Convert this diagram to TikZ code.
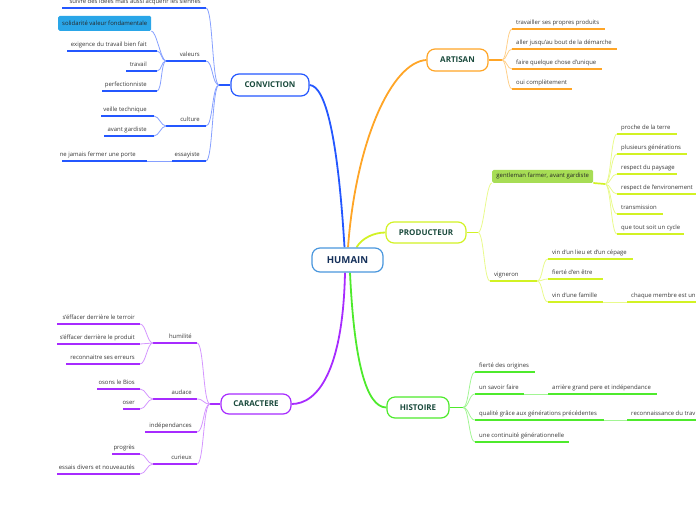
\documentclass[tikz,border=0pt]{standalone}
\usepackage{fontspec}
\setmainfont{Open Sans}
\usetikzlibrary{backgrounds}
\definecolor{cB}{HTML}{2457FF}
\definecolor{cBl}{HTML}{86A0FF}
\definecolor{cO}{HTML}{FFA526}
\definecolor{cOl}{HTML}{FFD08A}
\definecolor{cY}{HTML}{D2F224}
\definecolor{cYl}{HTML}{E9FA8C}
\definecolor{cG}{HTML}{4EEA2C}
\definecolor{cGl}{HTML}{A2F594}
\definecolor{cP}{HTML}{A72BFF}
\definecolor{cPl}{HTML}{D496FF}
\definecolor{hubc}{HTML}{4A97DD}
\definecolor{tt}{HTML}{1A4A3C}
\definecolor{navy}{HTML}{15305A}
\definecolor{lt}{HTML}{363636}
\definecolor{solidc}{HTML}{2AA6E8}
\definecolor{gentc}{HTML}{A7DD55}
\tikzset{
  topic/.style={draw, line width=1.2pt, fill=white, rounded corners=8pt,
    font=\fontsize{8}{9}\selectfont\bfseries, text=tt, inner sep=0pt},
  leaf/.style={font=\fontsize{5.95}{7}\selectfont, text=lt, inner xsep=1pt,
    inner ysep=2.6pt, text height=4.5pt, text depth=1.3pt},
  filledbox/.style={rounded corners=1.5pt, font=\fontsize{5.95}{7}\selectfont,
    text=black!85, inner sep=0pt, anchor=south west},
  ul/.style={line width=1.7pt},
  br/.style={line width=0.8pt},
  mainline/.style={line width=1.8pt}
}
% right-side leaf: name, x1, x2, y, text, colour
\newcommand\mmleafR[6]{%
  \coordinate (#1-w) at (#2,#4); \coordinate (#1-e) at (#3,#4);
  \node[leaf, anchor=south west] (#1) at ([xshift=3pt]#1-w) {#5};
  \draw[ul, #6] (#1-w) -- (#1-e);}
% left-side leaf: [right pad], name, x1, x2, y, text, colour
\newcommand\mmleafL[7][4]{%
  \coordinate (#2-w) at (#3,#5); \coordinate (#2-e) at (#4,#5);
  \node[leaf, anchor=south east] (#2) at ([xshift=-#1pt]#2-e) {#6};
  \draw[ul, #7] (#2-w) -- (#2-e);}
\begin{document}
\begin{tikzpicture}[x=1pt,y=-1pt]
\useasboundingbox (0,0) rectangle (696,520);

% central and main topics
\node[topic, draw=hubc, text=navy, minimum width=71pt, minimum height=24pt,
  font=\fontsize{9.6}{10}\selectfont\bfseries] (H) at (347.5,260) {HUMAIN};
\node[topic, draw=cB, minimum width=78pt, minimum height=22pt] (C) at (270,85) {CONVICTION};
\node[topic, draw=cO, minimum width=61pt, minimum height=22pt] (A) at (457.5,60) {ARTISAN};
\node[topic, draw=cY, minimum width=80pt, minimum height=21pt] (P) at (426,232.5) {PRODUCTEUR};
\node[topic, draw=cG, minimum width=62pt, minimum height=21pt] (Hi) at (418,407.5) {HISTOIRE};
\node[topic, draw=cP, minimum width=70pt, minimum height=20pt] (Ca) at (256,404) {CARACTERE};

% CONVICTION
\coordinate (jC) at (219,85);
\mmleafL{c1}{62}{206}{8}{suivre des idées mais aussi acquérir les siennes}{cB}
\mmleafL[5]{va}{178}{206}{61}{valeurs}{cB}
\mmleafL[5]{cu}{178}{206}{126}{culture}{cB}
\mmleafL[5]{es}{172}{206}{161}{essayiste}{cB}
\coordinate (jv) at (166,61);
\node[filledbox, fill=solidc, minimum width=93pt, minimum height=15pt] (so) at (58,31) {solidarité valeur fondamentale};
\mmleafL[9]{ex}{67}{157}{51}{exigence du travail bien fait}{cB}
\mmleafL[9]{tr}{126}{157}{71}{travail}{cB}
\mmleafL[9]{pe}{102}{157}{91}{perfectionniste}{cB}
\coordinate (jcu) at (166,126);
\mmleafL[6]{vt}{101}{154}{116}{veille technique}{cB}
\mmleafL[6]{ag}{104}{154}{136}{avant gardiste}{cB}
\mmleafL[10]{ne}{62}{147}{161}{ne jamais fermer une porte}{cB}

% ARTISAN
\coordinate (jA) at (502,60);
\mmleafR{a1}{512}{605}{29}{travailler ses propres produits}{cO}
\mmleafR{a2}{512}{617}{49}{aller jusqu'au bout de la démarche}{cO}
\mmleafR{a3}{512}{602}{69}{faire quelque chose d'unique}{cO}
\mmleafR{a4}{512}{572}{89}{oui complètement}{cO}

% PRODUCTEUR
\coordinate (jP) at (478,232.5);
\node[filledbox, fill=gentc, minimum width=101pt, minimum height=13pt] (gf) at (492,183) {gentleman farmer, avant gardiste};
\mmleafR{vg}{490}{537}{281}{vigneron}{cY}
\coordinate (jg) at (605,184);
\mmleafR{g1}{617}{677}{134}{proche de la terre}{cY}
\mmleafR{g2}{617}{687}{154}{plusieurs générations}{cY}
\mmleafR{g3}{617}{677}{174}{respect du paysage}{cY}
\mmleafR{g4}{617}{698}{194}{respect de l'environement}{cY}
\mmleafR{g5}{617}{663}{214}{transmission}{cY}
\mmleafR{g6}{617}{684}{234}{que tout soit un cycle}{cY}
\mmleafR{v1}{548}{633}{259}{vin d'un lieu et d'un cépage}{cY}
\mmleafR{v2}{548}{603}{279}{fierté d'en être}{cY}
\mmleafR{v3}{548}{603}{302}{vin d'une famille}{cY}
\mmleafR{v4}{627}{700}{302}{chaque membre est un}{cY}

% HISTOIRE
\coordinate (jH) at (463,407.5);
\mmleafR{h1}{475}{535}{372}{fierté des origines}{cG}
\mmleafR{h2}{475}{524}{394}{un savoir faire}{cG}
\mmleafR{h2b}{548}{657}{394}{arrière grand pere et indépendance}{cG}
\mmleafR{h3}{475}{604}{420}{qualité grâce aux générations précédentes}{cG}
\mmleafR{h3b}{627}{700}{420}{reconnaissance du trav}{cG}
\mmleafR{h4}{475}{569}{442}{une continuité générationnelle}{cG}

% CARACTERE
\coordinate (jCa) at (210,404);
\mmleafL{k1}{167}{197}{343}{humilité}{cP}
\mmleafL{k2}{167}{197}{399}{audace}{cP}
\mmleafL{k3}{145}{197}{432}{indépendances}{cP}
\mmleafL{k4}{167}{197}{464}{curieux}{cP}
\coordinate (jk1) at (153,343);
\mmleafL{k11}{57}{140}{324}{s'éffacer derrière le terroir}{cP}
\mmleafL{k12}{57}{140}{344}{s'éffacer derrière le produit}{cP}
\mmleafL{k13}{66}{140}{364}{reconnaitre ses erreurs}{cP}
\coordinate (jk2) at (153,399);
\mmleafL{k21}{97}{140}{389}{osons le Bios}{cP}
\mmleafL{k22}{123}{140}{409}{oser}{cP}
\coordinate (jk4) at (153,464);
\mmleafL{k41}{112}{140}{454}{progrès}{cP}
\mmleafL{k42}{57}{140}{474}{essais divers et nouveautés}{cP}

\begin{scope}[on background layer]
  % main connectors
  \draw[mainline, cB] ([xshift=-3pt]H.north) .. controls (338,140) and (326,86) .. (C.east);
  \draw[mainline, cO] ([xshift=0.5pt]H.north) .. controls (356,140) and (392,62) .. (A.west);
  \draw[mainline, cY] ([xshift=9pt]H.north) .. controls (362,238) and (374,232.5) .. (P.west);
  \draw[mainline, cG] ([xshift=2.5pt]H.south) .. controls (354,360) and (366,407.5) .. (Hi.west);
  \draw[mainline, cP] ([xshift=-2.5pt]H.south) .. controls (343,370) and (318,404) .. (Ca.east);
  % CONVICTION
  \draw[ul, cB] (C.west) -- (jC);
  \foreach \n in {c1,va,cu,es}
    \draw[br, cBl] (jC) .. controls +(-7,0) and +(7,0) .. (\n-e);
  \draw[ul, cB] (va-w) -- (jv);
  \draw[br, cBl] (jv) .. controls +(-5,0) and +(5,0) .. (so.south east);
  \foreach \n in {ex,tr,pe}
    \draw[br, cBl] (jv) .. controls +(-5,0) and +(5,0) .. (\n-e);
  \draw[ul, cB] (cu-w) -- (jcu);
  \foreach \n in {vt,ag}
    \draw[br, cBl] (jcu) .. controls +(-5,0) and +(5,0) .. (\n-e);
  \draw[br, cBl] (ne-e) -- (es-w);
  % ARTISAN
  \draw[ul, cO] (A.east) -- (jA);
  \foreach \n in {a1,a2,a3,a4}
    \draw[br, cOl] (jA) .. controls +(5,0) and +(-5,0) .. (\n-w);
  % PRODUCTEUR
  \draw[ul, cY] (P.east) -- (jP);
  \draw[br, cYl] (jP) .. controls +(6,0) and +(-6,0) .. (gf.south west);
  \draw[br, cYl] (jP) .. controls +(6,0) and +(-6,0) .. (vg-w);
  \draw[ul, cY] (gf.south east) -- (jg);
  \foreach \n in {g1,g2,g3,g4,g5,g6}
    \draw[br, cYl] (jg) .. controls +(6,0) and +(-6,0) .. (\n-w);
  \foreach \n in {v1,v2,v3}
    \draw[br, cYl] (vg-e) .. controls +(6,0) and +(-6,0) .. (\n-w);
  \draw[br, cYl] (v3-e) -- (v4-w);
  % HISTOIRE
  \draw[ul, cG] (Hi.east) -- (jH);
  \foreach \n in {h1,h2,h3,h4}
    \draw[br, cGl] (jH) .. controls +(6,0) and +(-6,0) .. (\n-w);
  \draw[br, cGl] (h2-e) -- (h2b-w);
  \draw[br, cGl] (h3-e) -- (h3b-w);
  % CARACTERE
  \draw[ul, cP] (Ca.west) -- (jCa);
  \foreach \n in {k1,k2,k3,k4}
    \draw[br, cPl] (jCa) .. controls +(-7,0) and +(7,0) .. (\n-e);
  \draw[ul, cP] (k1-w) -- (jk1);
  \foreach \n in {k11,k12,k13}
    \draw[br, cPl] (jk1) .. controls +(-6,0) and +(6,0) .. (\n-e);
  \draw[ul, cP] (k2-w) -- (jk2);
  \foreach \n in {k21,k22}
    \draw[br, cPl] (jk2) .. controls +(-6,0) and +(6,0) .. (\n-e);
  \draw[ul, cP] (k4-w) -- (jk4);
  \foreach \n in {k41,k42}
    \draw[br, cPl] (jk4) .. controls +(-6,0) and +(6,0) .. (\n-e);
\end{scope}
\end{tikzpicture}
\end{document}
